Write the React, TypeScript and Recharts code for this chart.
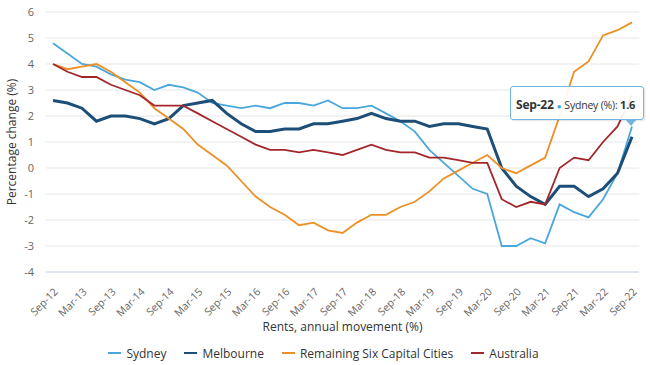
import { LineChart, Line, XAxis, YAxis, CartesianGrid, Tooltip, Legend } from "recharts";

const quarters = [
  "Sep-12", "Dec-12", "Mar-13", "Jun-13", "Sep-13", "Dec-13", "Mar-14", "Jun-14",
  "Sep-14", "Dec-14", "Mar-15", "Jun-15", "Sep-15", "Dec-15", "Mar-16", "Jun-16",
  "Sep-16", "Dec-16", "Mar-17", "Jun-17", "Sep-17", "Dec-17", "Mar-18", "Jun-18",
  "Sep-18", "Dec-18", "Mar-19", "Jun-19", "Sep-19", "Dec-19", "Mar-20", "Jun-20",
  "Sep-20", "Dec-20", "Mar-21", "Jun-21", "Sep-21", "Dec-21", "Mar-22", "Jun-22",
  "Sep-22",
];

const sydney = [
  4.8, 4.4, 4.0, 3.9, 3.6, 3.4, 3.3, 3.0, 3.2, 3.1, 2.9, 2.5, 2.4, 2.3, 2.4, 2.3,
  2.5, 2.5, 2.4, 2.6, 2.3, 2.3, 2.4, 2.1, 1.8, 1.4, 0.7, 0.2, -0.3, -0.8, -1.0,
  -3.0, -3.0, -2.7, -2.9, -1.4, -1.7, -1.9, -1.2, -0.2, 1.6,
];
const melbourne = [
  2.6, 2.5, 2.3, 1.8, 2.0, 2.0, 1.9, 1.7, 1.9, 2.4, 2.5, 2.6, 2.1, 1.7, 1.4, 1.4,
  1.5, 1.5, 1.7, 1.7, 1.8, 1.9, 2.1, 1.9, 1.8, 1.8, 1.6, 1.7, 1.7, 1.6, 1.5,
  0.0, -0.7, -1.1, -1.4, -0.7, -0.7, -1.1, -0.8, -0.2, 1.2,
];
const remaining = [
  4.0, 3.8, 3.9, 4.0, 3.7, 3.3, 2.9, 2.3, 1.9, 1.5, 0.9, 0.5, 0.1, -0.5, -1.1, -1.5,
  -1.8, -2.2, -2.1, -2.4, -2.5, -2.1, -1.8, -1.8, -1.5, -1.3, -0.9, -0.4, -0.1, 0.2, 0.5,
  0.0, -0.2, 0.1, 0.4, 2.0, 3.7, 4.1, 5.1, 5.3, 5.6,
];
const australia = [
  4.0, 3.7, 3.5, 3.5, 3.2, 3.0, 2.8, 2.4, 2.4, 2.4, 2.1, 1.8, 1.5, 1.2, 0.9, 0.7,
  0.7, 0.6, 0.7, 0.6, 0.5, 0.7, 0.9, 0.7, 0.6, 0.6, 0.4, 0.4, 0.3, 0.2, 0.2,
  -1.2, -1.5, -1.3, -1.4, 0.0, 0.4, 0.3, 1.0, 1.6, 2.8,
];

const yTicks = [-4, -3, -2, -1, 0, 1, 2, 3, 4, 5, 6];

const series = [
  { key: "sydney", name: "Sydney", color: "#4aa7dc", width: 1.8 },
  { key: "melbourne", name: "Melbourne", color: "#1c4e78", width: 3 },
  { key: "remaining", name: "Remaining Six Capital Cities", color: "#ec8f24", width: 1.8 },
  { key: "australia", name: "Australia", color: "#a3262b", width: 1.8 },
];

const data = quarters.map((q, i) => ({
  quarter: q,
  sydney: sydney[i],
  melbourne: melbourne[i],
  remaining: remaining[i],
  australia: australia[i],
}));

const FONT = "'Open Sans', 'Noto Sans', sans-serif";

const XTick = (props: any) => {
  const { x, y, payload } = props;
  return (
    <g transform={`translate(${x + 3},${y + 10})`}>
      <text
        textAnchor="end"
        transform="rotate(-45)"
        dy="0.35em"
        fill="#666"
        fontSize={10.5}
        fontFamily={FONT}
      >
        {payload.value}
      </text>
    </g>
  );
};

const LegendBox = () => (
  <div
    style={{
      display: "flex",
      justifyContent: "center",
      alignItems: "center",
      height: 24,
      fontFamily: FONT,
      fontSize: 12,
      color: "#333",
      gap: 18,
    }}
  >
    {series.map((s) => (
      <div key={s.key} style={{ display: "flex", alignItems: "center" }}>
        <span
          style={{
            display: "inline-block",
            width: 13,
            height: 2,
            background: s.color,
            marginRight: 5,
          }}
        />
        {s.name}
      </div>
    ))}
  </div>
);

// only Sydney is shown in the hover box, like the reference
const SydneyTip = (props: any) => {
  if (!props.active || !props.payload || !props.payload.length) return null;
  const entry = props.payload.find((p: any) => p.dataKey === "sydney");
  if (!entry) return null;
  return (
    <div
      style={{
        position: "relative",
        width: 134,
        boxSizing: "border-box",
        background: "rgba(255,255,255,0.92)",
        border: "1px solid #6fb5e0",
        borderRadius: 3,
        padding: "5px 5px",
        fontFamily: FONT,
        color: "#333",
        whiteSpace: "nowrap",
        letterSpacing: -0.2,
        boxShadow: "1px 1px 2px rgba(0,0,0,0.12)",
      }}
    >
      <span style={{ fontWeight: 700, fontSize: 12 }}>{props.label}</span>
      <span style={{ color: entry.color, fontSize: 8, margin: "0 3px" }}>●</span>
      <span style={{ fontSize: 10.5 }}>Sydney (%): </span>
      <span style={{ fontWeight: 700, fontSize: 11 }}>{entry.value}</span>
      <div
        style={{
          position: "absolute",
          right: 6,
          bottom: -7,
          width: 0,
          height: 0,
          borderLeft: "6px solid transparent",
          borderRight: "6px solid transparent",
          borderTop: "7px solid #6fb5e0",
        }}
      />
    </div>
  );
};

export default function App() {
  return (
    <div style={{ position: "absolute", left: 0, top: 0, width: 650, height: 365, background: "#fff" }}>
      <LineChart
        width={650}
        height={365}
        data={data}
        margin={{ top: 12, right: 11, left: 8, bottom: 0 }}
      >
        <CartesianGrid vertical={false} stroke="#e6e6e6" />
        <XAxis
          dataKey="quarter"
          interval={1}
          tick={<XTick />}
          tickLine={false}
          axisLine={{ stroke: "#ccd6eb" }}
          padding={{ left: 7, right: 7 }}
          height={69}
          label={{
            value: "Rents, annual movement (%)",
            position: "insideBottom",
            offset: 10,
            fill: "#333",
            fontSize: 12,
            fontFamily: FONT,
          }}
        />
        <YAxis
          domain={[-4, 6]}
          ticks={yTicks}
          width={38}
          tickLine={false}
          axisLine={false}
          tickMargin={6}
          tick={{ fill: "#666", fontSize: 11, fontFamily: FONT }}
          label={{
            value: "Percentage change (%)",
            angle: -90,
            position: "insideLeft",
            offset: 4,
            fill: "#333",
            fontSize: 12,
            fontFamily: FONT,
            style: { textAnchor: "middle" },
          }}
        />
        <Tooltip
          content={<SydneyTip />}
          defaultIndex={40}
          active={true}
          cursor={false}
          position={{ x: 510, y: 86 }}
          isAnimationActive={false}
        />
        <Legend verticalAlign="bottom" content={<LegendBox />} />
        {series.map((s) => (
          <Line
            key={s.key}
            type="linear"
            dataKey={s.key}
            name={s.name}
            stroke={s.color}
            strokeWidth={s.width}
            dot={false}
            activeDot={false}
            isAnimationActive={false}
          />
        ))}
      </LineChart>
    </div>
  );
}
